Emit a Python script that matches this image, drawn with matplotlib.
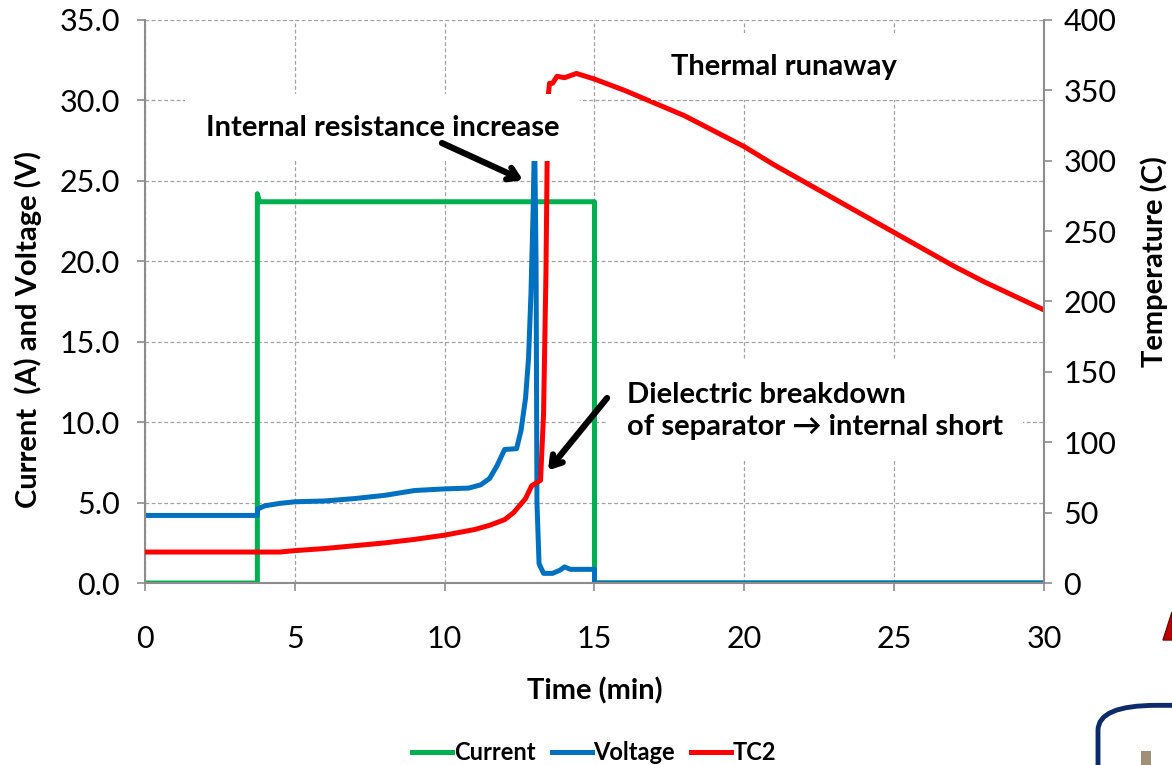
import matplotlib.pyplot as plt
from matplotlib.patches import FancyBboxPatch, Rectangle, Polygon

# data
t_current = [0, 3.75, 3.75, 3.82, 15.0, 15.0, 30]
current = [0, 0, 24.2, 23.7, 23.7, 0, 0]

t_voltage = [0, 3.75, 3.76, 4.0, 4.5, 5.0, 6.0, 7.0, 8.0, 9.0, 10.0, 10.8, 11.2,
             11.5, 11.75, 12.0, 12.4, 12.55, 12.7, 12.8, 12.88, 12.95, 13.0, 13.05,
             13.08, 13.15, 13.3, 13.6, 13.85, 14.0, 14.2, 15.0, 15.0, 30]
voltage = [4.2, 4.2, 4.6, 4.8, 4.95, 5.05, 5.1, 5.25, 5.45, 5.75, 5.85, 5.9, 6.1,
           6.5, 7.3, 8.3, 8.35, 9.5, 11.5, 14.0, 18.0, 23.0, 28.0, 20.0,
           5.0, 1.2, 0.6, 0.6, 0.8, 1.0, 0.85, 0.85, 0, 0]

t_tc2 = [0, 4.5, 5.0, 6.0, 7.0, 8.0, 9.0, 10.0, 11.0, 11.5, 12.0, 12.3, 12.5, 12.7,
         12.9, 13.05, 13.2, 13.3, 13.38, 13.42, 13.45, 13.5, 13.6, 13.75, 14.0, 14.4,
         15.0, 16.0, 17.0, 18.0, 19.0, 20.0, 21.0, 22.0, 23.0, 24.0, 25.0, 26.0,
         27.0, 28.0, 29.0, 30.0]
tc2 = [22, 22, 23, 24.5, 26.5, 28.5, 31, 34, 38, 41, 45, 50, 55, 60,
       69, 71, 73, 120, 220, 300, 345, 355, 355, 360, 359, 362,
       358, 350, 341, 332, 321, 310, 297, 285, 273, 261, 249, 237,
       225, 214, 204, 194]

x_ticks = [0, 5, 10, 15, 20, 25, 30]
left_ticks = [0, 5, 10, 15, 20, 25, 30, 35]
right_ticks = [0, 50, 100, 150, 200, 250, 300, 350, 400]

plt.rcParams['font.family'] = ['Lato', 'DejaVu Sans']

fig = plt.figure(figsize=(11.72, 7.65), dpi=100)
ax = fig.add_axes([0.1237, 0.2379, 0.7671, 0.736])
ax2 = ax.twinx()

GRAY = '#8c8c8c'

ax.plot(t_current, current, color='#00B050', lw=3.6, label='Current')
ax.plot(t_voltage, voltage, color='#0070C0', lw=3.6, label='Voltage')
ax2.plot(t_tc2, tc2, color='#FF0000', lw=3.6, label='TC2')

ax.set_xlim(0, 30)
ax.set_ylim(0, 35)
ax2.set_ylim(0, 400)
ax.set_xticks(x_ticks)
ax.set_yticks(left_ticks)
ax.set_yticklabels(['%.1f' % v for v in left_ticks])
ax2.set_yticks(right_ticks)

ax.grid(True, ls=(0, (3, 2)), color='#a0a0a0', lw=0.9)
ax.set_axisbelow(True)

for s in ['top', 'right']:
    ax.spines[s].set_visible(False)
for s in ['top', 'left', 'bottom']:
    ax2.spines[s].set_visible(False)
ax.spines['left'].set_color(GRAY)
ax.spines['bottom'].set_color(GRAY)
ax2.spines['right'].set_color(GRAY)
for s in [ax.spines['left'], ax.spines['bottom'], ax2.spines['right']]:
    s.set_linewidth(1.5)

ax.tick_params(axis='x', direction='out', length=6, color=GRAY, width=1.2,
               labelsize=22, pad=24)
ax.tick_params(axis='y', direction='out', length=6, color=GRAY, width=1.2,
               labelsize=22, pad=12)
ax2.tick_params(axis='y', direction='out', length=6, color=GRAY, width=1.2,
                labelsize=22, pad=8)

ax.set_xlabel('Time (min)', fontsize=21, fontweight='bold', labelpad=18)
fig.text(28 / 1172, 1 - 330 / 765, 'Current  (A) and Voltage (V)', rotation=90,
         fontsize=21, fontweight='bold', ha='center', va='center')
fig.text(1154 / 1172, 1 - 262 / 765, 'Temperature (C)', rotation=90,
         fontsize=21, fontweight='bold', ha='center', va='center')

box = dict(boxstyle='square,pad=0.7', facecolor='white', edgecolor='none')
ax2.text(7.93, 28.3, 'Internal resistance increase', transform=ax.transData,
         fontsize=21, fontweight='bold', ha='center', va='center', bbox=box, zorder=10)
ax2.text(21.32, 32.1, 'Thermal runaway', transform=ax.transData,
         fontsize=21, fontweight='bold', ha='center', va='center', bbox=box, zorder=10)
ax2.text(16.08, 10.7, 'Dielectric breakdown\nof separator \u2192 internal short',
         transform=ax.transData, fontsize=21, fontweight='bold', ha='left',
         va='center', linespacing=1.3, bbox=box, zorder=10)

arrow = dict(arrowstyle='->,head_length=0.7,head_width=0.45', lw=4.5, color='black',
             shrinkA=0, shrinkB=0)
ax2.annotate('', xy=(12.61, 25.05), xytext=(9.91, 27.35), xycoords=ax.transData,
             textcoords=ax.transData, arrowprops=arrow, zorder=11)
ax2.annotate('', xy=(13.45, 7.0), xytext=(15.42, 11.5), xycoords=ax.transData,
             textcoords=ax.transData, arrowprops=arrow, zorder=11)

h1, l1 = ax.get_legend_handles_labels()
h2, l2 = ax2.get_legend_handles_labels()
leg = fig.legend(h1 + h2, l1 + l2, loc='center', bbox_to_anchor=(0.507, 0.016),
                 ncol=3, frameon=False, handlelength=1.7, handletextpad=0.05,
                 columnspacing=0.7, prop={'size': 17, 'weight': 'bold'})

# slide decorations at the lower right corner
fig.patches.append(FancyBboxPatch((1098 / 1172, -0.05), 0.2, 0.128, transform=fig.transFigure,
                                  boxstyle='round,pad=0,rounding_size=0.05',
                                  facecolor='none', edgecolor='#0d2a6b', lw=3.5,
                                  mutation_aspect=765 / 1172))
fig.patches.append(Rectangle((1141 / 1172, 0), 10 / 1172, 14 / 765,
                             transform=fig.transFigure, facecolor='#a09078',
                             edgecolor='none'))
fig.patches.append(Polygon([(1163 / 1172, 1 - 640 / 765), (1172 / 1172, 1 - 612 / 765),
                            (1172 / 1172, 1 - 640 / 765)], closed=True,
                           transform=fig.transFigure, facecolor='#c00000',
                           edgecolor='#7a0000', lw=1))

fig.savefig('out.png', dpi=100)
